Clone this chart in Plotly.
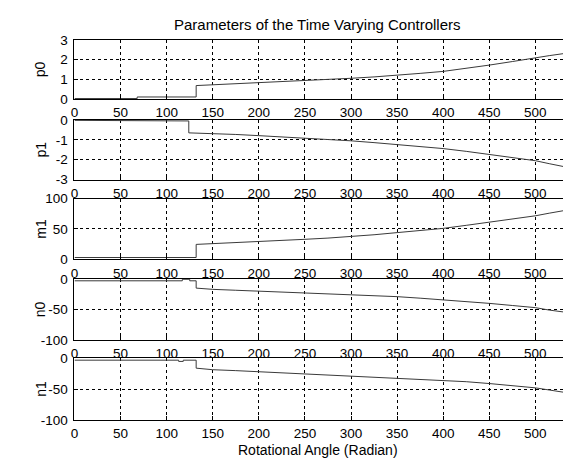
import plotly.graph_objects as go

W, H = 563, 467

# ---- data ----
p0_x = [0, 68, 68, 132, 132, 150, 175, 200, 225, 250, 275, 300, 325, 350, 375, 400, 425, 450, 475, 500, 515, 530]
p0_y = [0.02, 0.02, 0.1, 0.1, 0.68, 0.72, 0.76, 0.8, 0.85, 0.92, 0.98, 1.05, 1.12, 1.2, 1.3, 1.4, 1.55, 1.72, 1.9, 2.1, 2.2, 2.3]

p1_x = [0, 82, 82, 124, 124, 150, 175, 200, 225, 250, 275, 300, 325, 350, 375, 400, 425, 450, 475, 500, 515, 530]
p1_y = [-0.02, -0.02, -0.05, -0.05, -0.65, -0.68, -0.73, -0.79, -0.85, -0.92, -0.98, -1.05, -1.14, -1.24, -1.34, -1.44, -1.58, -1.73, -1.88, -2.05, -2.2, -2.34]

m1_x = [0, 132, 132, 150, 175, 200, 225, 250, 275, 300, 325, 350, 375, 400, 425, 450, 475, 500, 515, 530]
m1_y = [3, 3, 24.6, 25.7, 27.5, 29.4, 31, 33, 35, 37.4, 40.5, 44, 47.5, 51, 56, 61, 66, 71.7, 76, 80]

n0_x = [0, 117, 117, 125, 125, 132, 132, 150, 175, 200, 225, 250, 275, 300, 325, 350, 375, 400, 425, 450, 475, 500, 515, 530]
n0_y = [-3, -3, -0.5, -0.5, -3, -3, -15, -17, -18.5, -20, -21, -22, -23.5, -25, -27, -29, -31.5, -34, -37, -40, -43.5, -47, -51, -54]

n1_x = [0, 113, 113, 118, 118, 132, 132, 150, 175, 200, 225, 250, 275, 300, 325, 350, 375, 400, 425, 450, 475, 500, 515, 530]
n1_y = [-3, -3, -5, -5, -3, -3, -16, -18.5, -20, -21.7, -23.5, -25, -27, -28.5, -30, -32, -34, -35.5, -38, -41, -44.5, -48, -51.5, -55]

x_ticks = [0, 50, 100, 150, 200, 250, 300, 350, 400, 450, 500]
names = ["p0", "p1", "m1", "n0", "n1"]
series = [(p0_x, p0_y), (p1_x, p1_y), (m1_x, m1_y), (n0_x, n0_y), (n1_x, n1_y)]
y_ranges = [[0, 3], [-3, 0], [0, 100], [-100, 0], [-100, 0]]
y_ticks = [[0, 1, 2, 3], [-3, -2, -1, 0], [0, 50, 100], [-100, -50, 0], [-100, -50, 0]]
title_text = "Parameters of the Time Varying Controllers"
xlabel_text = "Rotational Angle (Radian)"

# ---- layout geometry (pixels) ----
tops = [34, 116.7, 198, 281, 363]
bottoms = [95, 178.3, 260.7, 344, 426.5]
left_px = 71

FONT = "Liberation Sans, Arial, sans-serif"
fig = go.Figure()
layout = dict(
    width=W, height=H, margin=dict(l=0, r=0, t=0, b=0),
    paper_bgcolor="white", plot_bgcolor="white", showlegend=False,
    font=dict(family=FONT, size=13, color="black"),
)

for i, ((xs, ys), rng, yt) in enumerate(zip(series, y_ranges, y_ticks)):
    k = "" if i == 0 else str(i + 1)
    fig.add_trace(go.Scatter(x=xs, y=ys, mode="lines", line=dict(color="#3a3a3a", width=1),
                             xaxis="x" + k, yaxis="y" + k, hoverinfo="skip"))
    layout["xaxis" + k] = dict(
        domain=[left_px / W, 1.0], range=[0, 530], anchor="y" + k,
        tickvals=x_ticks, ticktext=[str(v) for v in x_ticks],
        showline=True, linecolor="black", linewidth=1, mirror=True,
        ticks="inside", ticklen=4, tickcolor="black", ticklabelstandoff=1,
        showgrid=True, gridcolor="black", gridwidth=1, griddash="3px,3px",
        zeroline=False, tickfont=dict(family=FONT, size=13.5, color="black"),
    )
    layout["yaxis" + k] = dict(
        domain=[1 - bottoms[i] / H, 1 - tops[i] / H], range=rng, anchor="x" + k,
        tickvals=yt, ticktext=[str(v) for v in yt],
        showline=True, linecolor="black", linewidth=1, mirror=False,
        ticks="inside", ticklen=4, tickcolor="black", ticklabelstandoff=3,
        showgrid=True, gridcolor="black", gridwidth=1, griddash="3px,3px",
        zeroline=False, tickfont=dict(family=FONT, size=13.5, color="black"),
    )

annotations = [
    dict(text=title_text, x=316 / W, y=1 - 18 / H, xref="paper", yref="paper",
         showarrow=False, font=dict(family=FONT, size=15), xanchor="center", yanchor="middle"),
    dict(text=xlabel_text, x=316 / W, y=1 - 458 / H, xref="paper", yref="paper",
         showarrow=False, font=dict(family=FONT, size=14), xanchor="center", yanchor="middle"),
]
for i, nm in enumerate(names):
    annotations.append(dict(text=nm, x=37 / W, y=1 - (tops[i] + bottoms[i]) / 2 / H,
                            xref="paper", yref="paper", showarrow=False, textangle=-90,
                            font=dict(family=FONT, size=14), xanchor="center", yanchor="middle"))
layout["annotations"] = annotations

fig.update_layout(**layout)
fig.write_html("out.html")
